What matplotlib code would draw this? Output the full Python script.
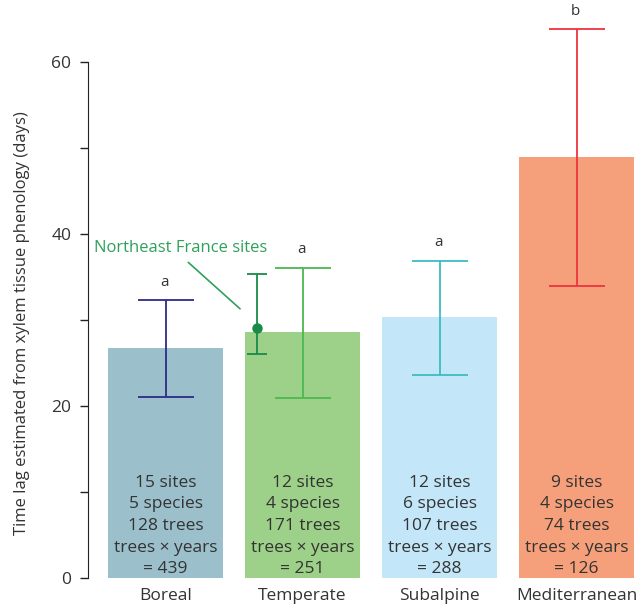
import matplotlib.pyplot as plt

plt.rcParams['font.family'] = ['Open Sans', 'DejaVu Sans']

# ## Data
biomes = ['Boreal', 'Temperate', 'Subalpine', 'Mediterranean']
lag_mean = [26.8, 28.6, 30.3, 48.9]
err_low = [21.1, 20.9, 23.6, 34.0]
err_high = [32.3, 36.1, 36.9, 63.8]
letters = ['a', 'a', 'a', 'b']
n_sites = [15, 12, 12, 9]
n_species = [5, 4, 6, 4]
n_trees = [128, 171, 107, 74]
n_tree_years = [439, 251, 288, 126]

# Northeast France sites (inside temperate)
ne_mean = 29.1
ne_low = 26.1
ne_high = 35.3

bar_cols = ['#9bbfcb', '#9dd088', '#c3e7f8', '#f6a07b']
err_cols = ['#2b2d84', '#4cb84f', '#3cbcc0', '#ef3340']
txt_col = '#333333'
ne_col = '#1a8a47'
ann_col = '#2ea15b'

fig = plt.figure(figsize=(6.42, 6.09), dpi=100)
ax = fig.add_axes([88 / 642, 31 / 609, 554 / 642, 567.6 / 609])

x = list(range(len(biomes)))
ax.bar(x, lag_mean, width=0.84, color=bar_cols, zorder=1)

for i in x:
    lo = lag_mean[i] - err_low[i]
    hi = err_high[i] - lag_mean[i]
    ax.errorbar(i, lag_mean[i], yerr=[[lo], [hi]], fmt='none', ecolor=err_cols[i],
                elinewidth=1.3, capsize=20.5, capthick=1.3, zorder=3)
    ax.text(i - 0.01, err_high[i] + 1.2, letters[i], ha='center', va='bottom',
            fontsize=11, color=txt_col)
    label = (f'{n_sites[i]} sites\n{n_species[i]} species\n{n_trees[i]} trees\n'
             f'trees \u00d7 years\n= {n_tree_years[i]}')
    ax.text(i, 0.1, label, ha='center', va='bottom', fontsize=12.5,
            color=txt_col, linespacing=1.47)

# NE France point
ne_x = 1 - 0.33
ax.errorbar(ne_x, ne_mean, yerr=[[ne_mean - ne_low], [ne_high - ne_mean]], fmt='o',
            color=ne_col, ms=6.5, elinewidth=1.3, capsize=7.2, capthick=1.3, zorder=4)
ax.text(0.113, 38.4, 'Northeast France sites', fontsize=12, color=ann_col,
        ha='center', va='center')
ax.annotate('', xy=(0.544, 31.3), xytext=(0.166, 36.7),
            arrowprops=dict(arrowstyle='-', color=ann_col, lw=1.2,
                            shrinkA=0, shrinkB=0))

ax.set_xlim(-0.566, 3.478)
ax.set_ylim(0, 66)
ax.set_yticks([0, 10, 20, 30, 40, 50, 60])
ax.set_yticklabels(['0', '', '20', '', '40', '', '60'])
ax.spines['left'].set_bounds(0, 60)
for s in ['top', 'right', 'bottom']:
    ax.spines[s].set_visible(False)
ax.spines['left'].set_color('#222222')
ax.tick_params(axis='y', direction='out', length=6, width=1, colors='#222222',
               labelsize=12.5, labelcolor=txt_col, pad=6)
ax.set_xticks(x)
ax.set_xticklabels(biomes)
ax.tick_params(axis='x', length=0, labelsize=12.5, labelcolor=txt_col, pad=7)

fig.text(22 / 642, 1 - 323 / 609, 'Time lag estimated from xylem tissue phenology (days)',
         rotation=90, ha='center', va='center', fontsize=12, color=txt_col)

plt.savefig('out.png', dpi=100)
